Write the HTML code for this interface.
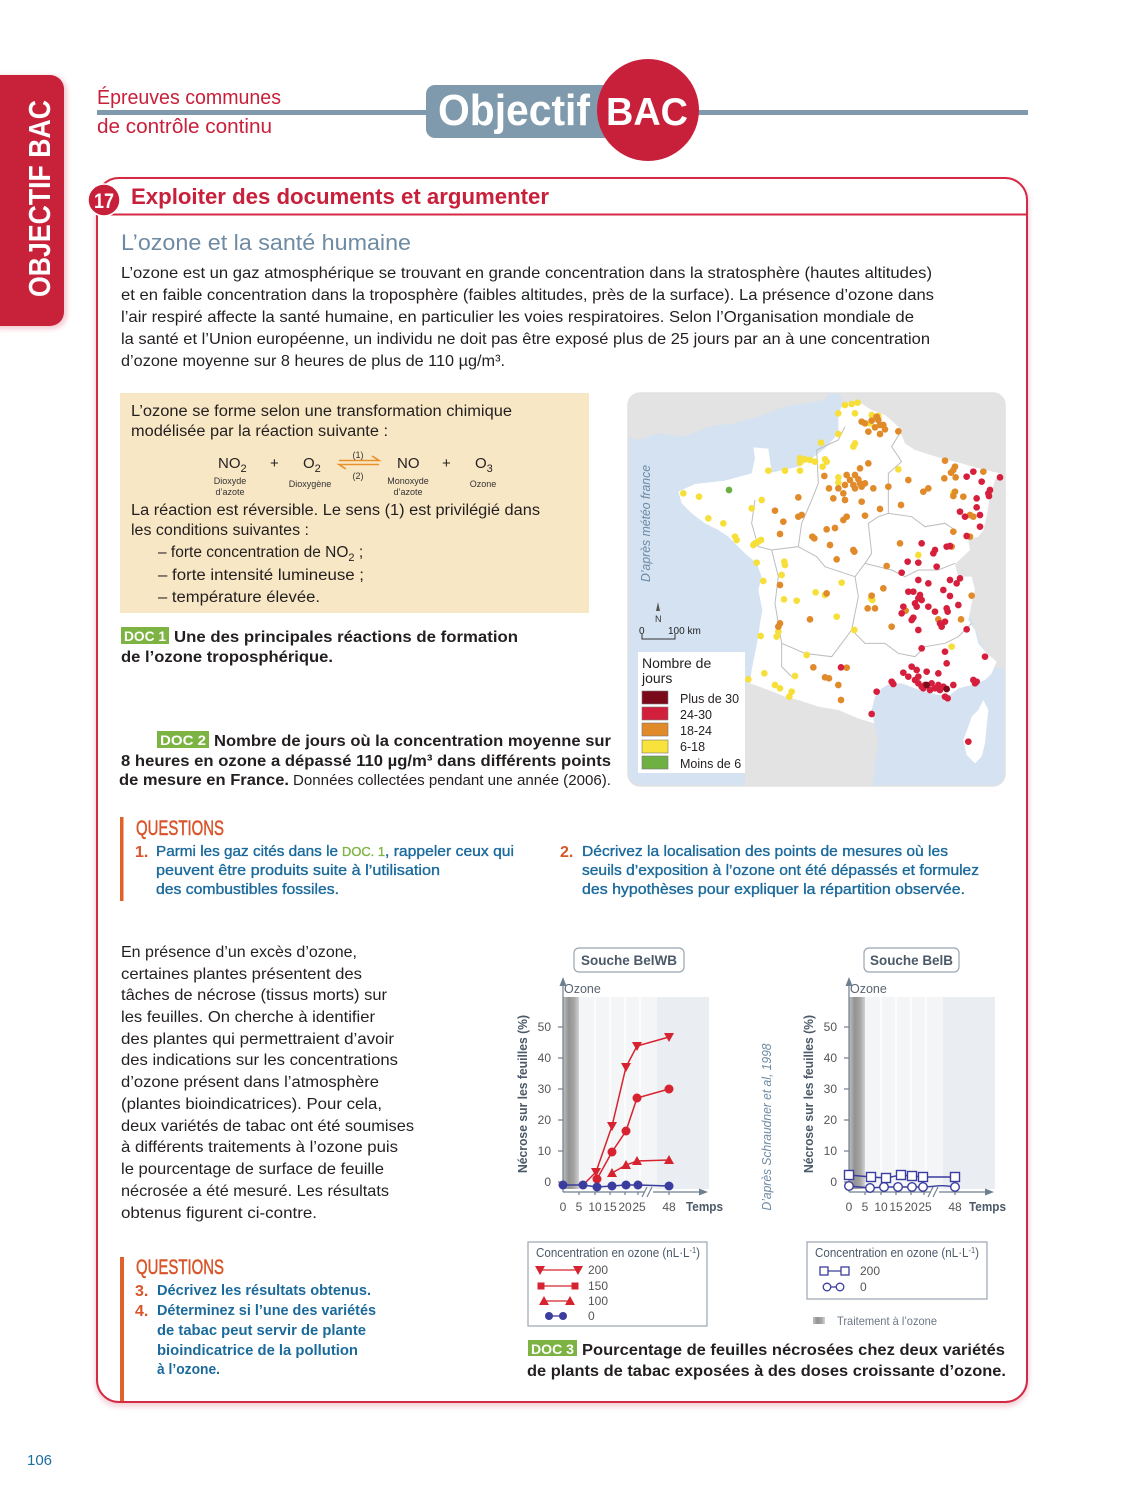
<!DOCTYPE html>
<html><head><meta charset="utf-8"><style>
html,body{margin:0;padding:0;background:#fff;}
body{width:1125px;height:1500px;overflow:hidden;}
svg{display:block;}
</style></head><body>
<svg width="1125" height="1500" viewBox="0 0 1125 1500" font-family="'Liberation Sans','DejaVu Sans',sans-serif">
<defs>
<linearGradient id="ozg" x1="0" x2="1" y1="0" y2="0">
<stop offset="0" stop-color="#c2c2c2"/><stop offset="0.35" stop-color="#929292"/><stop offset="0.7" stop-color="#a6a6a6"/><stop offset="1" stop-color="#d2d2d2"/>
</linearGradient>
<filter id="sh" x="-5%" y="-5%" width="110%" height="110%"><feDropShadow dx="0" dy="3" stdDeviation="3" flood-color="#c8203a" flood-opacity="0.25"/></filter>
<filter id="sh2" x="-20%" y="-10%" width="140%" height="120%"><feDropShadow dx="2" dy="2" stdDeviation="3" flood-color="#c8203a" flood-opacity="0.3"/></filter>
<clipPath id="mapclip"><rect x="628" y="393" width="377" height="393" rx="12"/></clipPath>
</defs>

<!-- Sidebar tab -->
<rect x="-20" y="75" width="84" height="251" rx="14" fill="#c8203a" filter="url(#sh2)"/>
<text transform="translate(50,297) rotate(-90)" font-size="31" font-weight="bold" fill="#fff" textLength="197" lengthAdjust="spacingAndGlyphs">OBJECTIF BAC</text>

<!-- Header -->
<rect x="97" y="110" width="931" height="5" fill="#8099ad"/>
<text x="97" y="104" font-size="20" fill="#c8203a" textLength="184" lengthAdjust="spacingAndGlyphs">Épreuves communes</text>
<text x="97" y="133" font-size="20" fill="#c8203a" textLength="175" lengthAdjust="spacingAndGlyphs">de contrôle continu</text>
<rect x="426" y="85" width="192" height="53" rx="9" fill="#7f99ad"/>
<text x="438" y="125" font-size="44" font-weight="bold" fill="#fff" textLength="152" lengthAdjust="spacingAndGlyphs">Objectif</text>
<circle cx="648" cy="110" r="51" fill="#c8203a"/>
<text x="606" y="125" font-size="39" font-weight="bold" fill="#fff" textLength="82" lengthAdjust="spacingAndGlyphs">BAC</text>

<!-- Main box -->
<rect x="97" y="178" width="930" height="1224" rx="22" fill="#fff" stroke="#d42a45" stroke-width="2" filter="url(#sh)"/>
<line x1="97" y1="214.5" x2="1027" y2="214.5" stroke="#d42a45" stroke-width="2"/>
<circle cx="104" cy="200" r="16" fill="#c8203a" stroke="#fff" stroke-width="1.5"/>
<text x="104" y="208" font-size="21" font-weight="bold" fill="#fff" text-anchor="middle" textLength="20" lengthAdjust="spacingAndGlyphs">17</text>
<text x="131" y="204" font-size="22" font-weight="bold" fill="#c8203a" textLength="418" lengthAdjust="spacingAndGlyphs">Exploiter des documents et argumenter</text>

<text x="121" y="250" font-size="22" fill="#6f8ba3" textLength="290" lengthAdjust="spacingAndGlyphs">L’ozone et la santé humaine</text>

<g font-size="16" fill="#231f20">
<text x="121" y="278" textLength="811" lengthAdjust="spacingAndGlyphs">L’ozone est un gaz atmosphérique se trouvant en grande concentration dans la stratosphère (hautes altitudes)</text>
<text x="121" y="300" textLength="813" lengthAdjust="spacingAndGlyphs">et en faible concentration dans la troposphère (faibles altitudes, près de la surface). La présence d’ozone dans</text>
<text x="121" y="322" textLength="793" lengthAdjust="spacingAndGlyphs">l’air respiré affecte la santé humaine, en particulier les voies respiratoires. Selon l’Organisation mondiale de</text>
<text x="121" y="344" textLength="809" lengthAdjust="spacingAndGlyphs">la santé et l’Union européenne, un individu ne doit pas être exposé plus de 25 jours par an à une concentration</text>
<text x="121" y="366" textLength="384" lengthAdjust="spacingAndGlyphs">d’ozone moyenne sur 8 heures de plus de 110 µg/m³.</text>
</g>

<!-- DOC 1 -->
<rect x="120" y="393" width="469" height="220" fill="#f8e7c4"/>
<g font-size="15.5" fill="#231f20">
<text x="131" y="416" textLength="381" lengthAdjust="spacingAndGlyphs">L’ozone se forme selon une transformation chimique</text>
<text x="131" y="436" textLength="257" lengthAdjust="spacingAndGlyphs">modélisée par la réaction suivante :</text>
<text x="131" y="515" textLength="409" lengthAdjust="spacingAndGlyphs">La réaction est réversible. Le sens (1) est privilégié dans</text>
<text x="131" y="535" textLength="178" lengthAdjust="spacingAndGlyphs">les conditions suivantes :</text>
<text x="158" y="557">– forte concentration de NO<tspan font-size="11" dy="4">2</tspan><tspan dy="-4"> ;</tspan></text>
<text x="158" y="580" textLength="206" lengthAdjust="spacingAndGlyphs">– forte intensité lumineuse ;</text>
<text x="158" y="602" textLength="162" lengthAdjust="spacingAndGlyphs">– température élevée.</text>
</g>
<g font-size="15" fill="#231f20">
<text x="218" y="468">NO<tspan font-size="11" dy="4">2</tspan></text>
<text x="270" y="468">+</text>
<text x="303" y="468">O<tspan font-size="11" dy="4">2</tspan></text>
<text x="397" y="468">NO</text>
<text x="442" y="468">+</text>
<text x="475" y="468">O<tspan font-size="11" dy="4">3</tspan></text>
</g>
<g stroke="#e8902a" stroke-width="1.6" fill="none">
<polyline points="339,460.5 379,460.5 372,456"/>
<polyline points="379,464.5 339,464.5 346,469"/>
</g>
<g font-size="9" fill="#333" text-anchor="middle">
<text x="358" y="458">(1)</text>
<text x="358" y="479">(2)</text>
<text x="230" y="484">Dioxyde</text>
<text x="230" y="495">d’azote</text>
<text x="310" y="487">Dioxygène</text>
<text x="408" y="484">Monoxyde</text>
<text x="408" y="495">d’azote</text>
<text x="483" y="487">Ozone</text>
</g>
<rect x="121" y="627" width="48" height="17" fill="#7cb342"/>
<text x="124" y="641" font-size="14" font-weight="bold" fill="#fff" textLength="42" lengthAdjust="spacingAndGlyphs">DOC 1</text>
<g font-size="16" font-weight="bold" fill="#231f20">
<text x="174" y="642" textLength="344" lengthAdjust="spacingAndGlyphs">Une des principales réactions de formation</text>
<text x="121" y="662" textLength="212" lengthAdjust="spacingAndGlyphs">de l’ozone troposphérique.</text>
</g>

<!-- MAP -->
<g clip-path="url(#mapclip)">
<rect x="628" y="393" width="377" height="393" fill="#d4e2f1"/>
<g transform="translate(625,390) scale(0.33333)">
<polygon fill="#e3e3e3" points="0,0 620,0 600,30 480,50 400,80 330,100 250,110 180,140 100,130 40,150 0,140"/>
<polygon fill="#e3e3e3" points="640,0 1155,0 1155,840 1100,830 1000,600 700,40 655,40"/>
<polygon fill="#e3e3e3" points="370,870 480,920 640,960 748,1000 760,1050 740,1200 360,1200 360,900"/>
<polygon fill="#fff" points="160,305 210,282 300,272 380,250 390,205 385,172 430,176 440,248 520,230 560,205 600,175 640,130 640,70 655,40 700,35 740,60 780,75 820,110 840,160 870,180 950,205 1010,220 1060,235 1125,250 1110,270 1095,320 1085,380 1075,420 1060,440 1030,450 1035,480 990,522 1000,560 1040,560 1050,600 1040,640 1030,690 1050,720 1060,760 1085,790 1115,815 1100,850 1080,870 1040,885 1000,895 975,915 940,915 900,905 870,895 830,880 795,880 770,895 750,920 740,960 748,1000 700,985 640,960 580,950 520,930 480,920 430,900 375,880 380,840 390,790 400,740 405,700 412,660 400,600 410,560 395,520 360,490 330,460 310,440 280,420 240,400 200,370 170,340"/>
<polygon fill="#fff" points="1075,930 1090,960 1085,1010 1080,1060 1070,1100 1050,1120 1025,1095 1015,1050 1030,1010 1040,980 1060,960"/>
<g fill="none" stroke="#bdbdbd" stroke-width="3">
<polyline points="575,180 580,280 560,330 530,400 520,470 440,480 400,470"/>
<polyline points="520,470 575,500 600,530 690,560 720,520 740,490 730,400 760,380 790,370 790,250 830,215"/>
<polyline points="790,370 860,380 900,410 960,400 990,420"/>
<polyline points="720,520 800,540 840,560 880,540 940,540 990,520"/>
<polyline points="690,560 700,620 680,720 720,760 780,760 820,790 870,800 900,770 960,760 1000,740 1040,700"/>
<polyline points="470,760 540,790 620,800 680,720"/>
<polyline points="440,480 460,560 450,640 470,760 470,830 500,860"/>
<polyline points="830,120 800,170 830,215"/>
<polyline points="575,180 640,150 660,110"/>
<polyline points="400,470 380,400 390,330"/>
</g>
<g fill="#f7df3a">
<circle cx="660" cy="45" r="10"/><circle cx="680" cy="42" r="10"/><circle cx="698" cy="38" r="10"/><circle cx="640" cy="70" r="10"/><circle cx="690" cy="70" r="10"/><circle cx="740" cy="75" r="10"/><circle cx="760" cy="78" r="10"/><circle cx="735" cy="100" r="10"/><circle cx="640" cy="132" r="10"/><circle cx="588" cy="158" r="10"/><circle cx="690" cy="160" r="10"/><circle cx="685" cy="170" r="10"/><circle cx="525" cy="205" r="10"/><circle cx="540" cy="208" r="10"/><circle cx="555" cy="210" r="10"/><circle cx="570" cy="215" r="10"/><circle cx="525" cy="218" r="10"/><circle cx="600" cy="208" r="10"/><circle cx="605" cy="215" r="10"/><circle cx="593" cy="230" r="10"/><circle cx="640" cy="262" r="10"/><circle cx="640" cy="278" r="10"/><circle cx="430" cy="242" r="10"/><circle cx="480" cy="242" r="10"/><circle cx="525" cy="242" r="10"/><circle cx="820" cy="238" r="10"/><circle cx="175" cy="310" r="10"/><circle cx="222" cy="320" r="10"/><circle cx="410" cy="330" r="10"/><circle cx="380" cy="355" r="10"/><circle cx="250" cy="385" r="10"/><circle cx="295" cy="400" r="10"/><circle cx="330" cy="440" r="10"/><circle cx="335" cy="450" r="10"/><circle cx="390" cy="460" r="10"/><circle cx="385" cy="465" r="10"/><circle cx="400" cy="455" r="10"/><circle cx="408" cy="450" r="10"/><circle cx="395" cy="518" r="10"/><circle cx="478" cy="515" r="10"/><circle cx="480" cy="525" r="10"/><circle cx="470" cy="555" r="10"/><circle cx="415" cy="573" r="10"/><circle cx="650" cy="578" r="10"/><circle cx="572" cy="607" r="10"/><circle cx="600" cy="615" r="10"/><circle cx="738" cy="625" r="10"/><circle cx="742" cy="630" r="10"/><circle cx="477" cy="628" r="10"/><circle cx="515" cy="632" r="10"/><circle cx="635" cy="680" r="10"/><circle cx="688" cy="720" r="10"/><circle cx="407" cy="738" r="10"/><circle cx="460" cy="725" r="10"/><circle cx="455" cy="740" r="10"/><circle cx="545" cy="795" r="10"/><circle cx="980" cy="770" r="10"/><circle cx="880" cy="495" r="10"/><circle cx="985" cy="310" r="10"/><circle cx="370" cy="868" r="10"/><circle cx="418" cy="850" r="10"/><circle cx="450" cy="885" r="10"/><circle cx="465" cy="895" r="10"/><circle cx="500" cy="905" r="10"/><circle cx="493" cy="920" r="10"/><circle cx="510" cy="858" r="10"/>
</g>
<g fill="#e08a2a">
<circle cx="710" cy="95" r="10"/><circle cx="720" cy="100" r="10"/><circle cx="740" cy="92" r="10"/><circle cx="755" cy="80" r="10"/><circle cx="760" cy="90" r="10"/><circle cx="765" cy="105" r="10"/><circle cx="750" cy="112" r="10"/><circle cx="775" cy="105" r="10"/><circle cx="780" cy="118" r="10"/><circle cx="730" cy="125" r="10"/><circle cx="765" cy="132" r="10"/><circle cx="820" cy="124" r="10"/><circle cx="730" cy="220" r="10"/><circle cx="705" cy="235" r="10"/><circle cx="598" cy="258" r="10"/><circle cx="665" cy="255" r="10"/><circle cx="690" cy="255" r="10"/><circle cx="700" cy="268" r="10"/><circle cx="705" cy="280" r="10"/><circle cx="685" cy="285" r="10"/><circle cx="690" cy="295" r="10"/><circle cx="710" cy="290" r="10"/><circle cx="720" cy="280" r="10"/><circle cx="675" cy="270" r="10"/><circle cx="660" cy="285" r="10"/><circle cx="655" cy="310" r="10"/><circle cx="640" cy="295" r="10"/><circle cx="612" cy="295" r="10"/><circle cx="745" cy="295" r="10"/><circle cx="790" cy="290" r="10"/><circle cx="850" cy="270" r="10"/><circle cx="910" cy="295" r="10"/><circle cx="895" cy="305" r="10"/><circle cx="990" cy="230" r="10"/><circle cx="985" cy="240" r="10"/><circle cx="978" cy="248" r="10"/><circle cx="960" cy="212" r="10"/><circle cx="958" cy="265" r="10"/><circle cx="992" cy="262" r="10"/><circle cx="1075" cy="245" r="10"/><circle cx="990" cy="305" r="10"/><circle cx="985" cy="318" r="10"/><circle cx="1015" cy="320" r="10"/><circle cx="1035" cy="375" r="10"/><circle cx="1045" cy="380" r="10"/><circle cx="520" cy="322" r="10"/><circle cx="450" cy="362" r="10"/><circle cx="520" cy="380" r="10"/><circle cx="530" cy="375" r="10"/><circle cx="665" cy="380" r="10"/><circle cx="655" cy="390" r="10"/><circle cx="720" cy="377" r="10"/><circle cx="765" cy="357" r="10"/><circle cx="828" cy="345" r="10"/><circle cx="660" cy="330" r="10"/><circle cx="625" cy="325" r="10"/><circle cx="710" cy="335" r="10"/><circle cx="475" cy="395" r="10"/><circle cx="465" cy="432" r="10"/><circle cx="562" cy="440" r="10"/><circle cx="568" cy="445" r="10"/><circle cx="605" cy="418" r="10"/><circle cx="630" cy="414" r="10"/><circle cx="615" cy="465" r="10"/><circle cx="685" cy="480" r="10"/><circle cx="688" cy="485" r="10"/><circle cx="635" cy="508" r="10"/><circle cx="785" cy="528" r="10"/><circle cx="825" cy="460" r="10"/><circle cx="985" cy="425" r="10"/><circle cx="1035" cy="440" r="10"/><circle cx="465" cy="585" r="10"/><circle cx="605" cy="610" r="10"/><circle cx="775" cy="595" r="10"/><circle cx="728" cy="655" r="10"/><circle cx="750" cy="655" r="10"/><circle cx="740" cy="617" r="10"/><circle cx="842" cy="662" r="10"/><circle cx="940" cy="688" r="10"/><circle cx="1008" cy="688" r="10"/><circle cx="1040" cy="617" r="10"/><circle cx="555" cy="688" r="10"/><circle cx="800" cy="710" r="10"/><circle cx="980" cy="470" r="10"/><circle cx="640" cy="885" r="10"/><circle cx="612" cy="865" r="10"/><circle cx="600" cy="862" r="10"/><circle cx="565" cy="832" r="10"/><circle cx="665" cy="833" r="10"/><circle cx="648" cy="930" r="10"/><circle cx="460" cy="710" r="10"/><circle cx="465" cy="700" r="10"/>
</g>
<g fill="#d61f3d">
<circle cx="1045" cy="245" r="10"/><circle cx="1025" cy="260" r="10"/><circle cx="1070" cy="275" r="10"/><circle cx="1125" cy="262" r="10"/><circle cx="1095" cy="300" r="10"/><circle cx="1090" cy="310" r="10"/><circle cx="1092" cy="318" r="10"/><circle cx="1055" cy="325" r="10"/><circle cx="1055" cy="352" r="10"/><circle cx="1065" cy="375" r="10"/><circle cx="1065" cy="410" r="10"/><circle cx="1005" cy="365" r="10"/><circle cx="1020" cy="380" r="10"/><circle cx="1025" cy="438" r="10"/><circle cx="890" cy="460" r="10"/><circle cx="930" cy="480" r="10"/><circle cx="925" cy="490" r="10"/><circle cx="965" cy="470" r="10"/><circle cx="975" cy="468" r="10"/><circle cx="848" cy="515" r="10"/><circle cx="880" cy="518" r="10"/><circle cx="935" cy="530" r="10"/><circle cx="830" cy="548" r="10"/><circle cx="880" cy="570" r="10"/><circle cx="910" cy="580" r="10"/><circle cx="975" cy="570" r="10"/><circle cx="995" cy="580" r="10"/><circle cx="1005" cy="565" r="10"/><circle cx="955" cy="600" r="10"/><circle cx="850" cy="605" r="10"/><circle cx="865" cy="605" r="10"/><circle cx="880" cy="625" r="10"/><circle cx="885" cy="615" r="10"/><circle cx="890" cy="630" r="10"/><circle cx="875" cy="650" r="10"/><circle cx="870" cy="640" r="10"/><circle cx="835" cy="650" r="10"/><circle cx="830" cy="670" r="10"/><circle cx="860" cy="690" r="10"/><circle cx="865" cy="683" r="10"/><circle cx="910" cy="650" r="10"/><circle cx="930" cy="665" r="10"/><circle cx="965" cy="655" r="10"/><circle cx="968" cy="665" r="10"/><circle cx="975" cy="618" r="10"/><circle cx="1000" cy="645" r="10"/><circle cx="945" cy="700" r="10"/><circle cx="950" cy="710" r="10"/><circle cx="960" cy="695" r="10"/><circle cx="880" cy="720" r="10"/><circle cx="1025" cy="718" r="10"/><circle cx="890" cy="775" r="10"/><circle cx="960" cy="785" r="10"/><circle cx="1080" cy="800" r="10"/><circle cx="860" cy="830" r="10"/><circle cx="875" cy="840" r="10"/><circle cx="905" cy="845" r="10"/><circle cx="835" cy="848" r="10"/><circle cx="850" cy="860" r="10"/><circle cx="880" cy="860" r="10"/><circle cx="940" cy="850" r="10"/><circle cx="965" cy="820" r="10"/><circle cx="870" cy="870" r="10"/><circle cx="880" cy="880" r="10"/><circle cx="890" cy="890" r="10"/><circle cx="900" cy="885" r="10"/><circle cx="920" cy="880" r="10"/><circle cx="940" cy="885" r="10"/><circle cx="955" cy="890" r="10"/><circle cx="930" cy="895" r="10"/><circle cx="945" cy="900" r="10"/><circle cx="915" cy="900" r="10"/><circle cx="895" cy="895" r="10"/><circle cx="960" cy="920" r="10"/><circle cx="968" cy="925" r="10"/><circle cx="800" cy="875" r="10"/><circle cx="805" cy="882" r="10"/><circle cx="755" cy="905" r="10"/><circle cx="985" cy="885" r="10"/><circle cx="1045" cy="870" r="10"/><circle cx="1055" cy="875" r="10"/><circle cx="1050" cy="880" r="10"/><circle cx="740" cy="972" r="10"/><circle cx="1030" cy="1055" r="10"/><circle cx="648" cy="832" r="10"/>
</g>
<g fill="#7a0c1c"><circle cx="905" cy="885" r="10"/><circle cx="965" cy="897" r="10"/></g>
<circle cx="312" cy="300" r="10" fill="#6ab043"/>
</g>
</g>
<rect x="628" y="393" width="377" height="393" rx="12" fill="none" stroke="#e2e2e2" stroke-width="1.5"/>
<text transform="translate(650,582) rotate(-90)" font-size="13" font-style="italic" fill="#6d8aa3" textLength="117" lengthAdjust="spacingAndGlyphs">D’après météo france</text>
<polygon points="658,602 656,611 660,611" fill="#555"/>
<text x="655" y="622" font-size="9" fill="#333">N</text>
<text x="639" y="634" font-size="10" fill="#222">0</text>
<text x="668" y="634" font-size="10" fill="#222">100 km</text>
<polyline points="642,634 642,639 675,639 675,634" fill="none" stroke="#333" stroke-width="1"/>
<rect x="638" y="652" width="107" height="121" fill="#fff"/>
<text x="642" y="668" font-size="14" fill="#231f20">Nombre de</text>
<text x="642" y="683" font-size="14" fill="#231f20">jours</text>
<g stroke="#777" stroke-width="0.6">
<rect x="642" y="691" width="26" height="13" fill="#7a0a1a"/>
<rect x="642" y="707" width="26" height="13" fill="#d21f3c"/>
<rect x="642" y="723" width="26" height="13" fill="#e08a2a"/>
<rect x="642" y="740" width="26" height="13" fill="#f8e23c"/>
<rect x="642" y="756" width="26" height="13" fill="#6fb043"/>
</g>
<g font-size="12.5" fill="#231f20">
<text x="680" y="703">Plus de 30</text>
<text x="680" y="719">24-30</text>
<text x="680" y="735">18-24</text>
<text x="680" y="751">6-18</text>
<text x="680" y="768">Moins de 6</text>
</g>

<!-- DOC 2 caption -->
<rect x="157" y="731" width="52" height="17" fill="#7cb342"/>
<text x="160" y="745" font-size="14" font-weight="bold" fill="#fff" textLength="46" lengthAdjust="spacingAndGlyphs">DOC 2</text>
<g font-size="16" font-weight="bold" fill="#231f20">
<text x="214" y="746" textLength="397" lengthAdjust="spacingAndGlyphs">Nombre de jours où la concentration moyenne sur</text>
<text x="121" y="766" textLength="490" lengthAdjust="spacingAndGlyphs">8 heures en ozone a dépassé 110 µg/m³ dans différents points</text>
<text x="119" y="785" textLength="170" lengthAdjust="spacingAndGlyphs">de mesure en France.</text>
</g>
<text x="293" y="785" font-size="15" fill="#231f20" textLength="318" lengthAdjust="spacingAndGlyphs">Données collectées pendant une année (2006).</text>

<!-- Questions 1-2 -->
<rect x="120" y="817" width="3.5" height="84" fill="#e0622a"/>
<text x="136" y="835" font-size="21" fill="#d9552a" stroke="#d9552a" stroke-width="0.5" textLength="88" lengthAdjust="spacingAndGlyphs">QUESTIONS</text>
<g font-size="16" font-weight="bold" fill="#d9552a">
<text x="135" y="857">1.</text>
<text x="560" y="857">2.</text>
</g>
<g font-size="15" fill="#1b6a9c" stroke="#1b6a9c" stroke-width="0.35">
<text x="156" y="856" textLength="182" lengthAdjust="spacingAndGlyphs">Parmi les gaz cités dans le</text>
<text x="342" y="856" font-size="13" fill="#7cb342" stroke="#7cb342" textLength="43" lengthAdjust="spacingAndGlyphs">DOC. 1</text>
<text x="385" y="856" textLength="129" lengthAdjust="spacingAndGlyphs">, rappeler ceux qui</text>
<text x="156" y="875" textLength="284" lengthAdjust="spacingAndGlyphs">peuvent être produits suite à l’utilisation</text>
<text x="156" y="894" textLength="183" lengthAdjust="spacingAndGlyphs">des combustibles fossiles.</text>
<text x="582" y="856" textLength="366" lengthAdjust="spacingAndGlyphs">Décrivez la localisation des points de mesures où les</text>
<text x="582" y="875" textLength="397" lengthAdjust="spacingAndGlyphs">seuils d’exposition à l’ozone ont été dépassés et formulez</text>
<text x="582" y="894" textLength="383" lengthAdjust="spacingAndGlyphs">des hypothèses pour expliquer la répartition observée.</text>
</g>

<!-- Lower paragraph -->
<g font-size="16" fill="#231f20">
<text x="121" y="957" textLength="236" lengthAdjust="spacingAndGlyphs">En présence d’un excès d’ozone,</text>
<text x="121" y="979" textLength="241" lengthAdjust="spacingAndGlyphs">certaines plantes présentent des</text>
<text x="121" y="1000" textLength="266" lengthAdjust="spacingAndGlyphs">tâches de nécrose (tissus morts) sur</text>
<text x="121" y="1022" textLength="254" lengthAdjust="spacingAndGlyphs">les feuilles. On cherche à identifier</text>
<text x="121" y="1044" textLength="273" lengthAdjust="spacingAndGlyphs">des plantes qui permettraient d’avoir</text>
<text x="121" y="1065" textLength="277" lengthAdjust="spacingAndGlyphs">des indications sur les concentrations</text>
<text x="121" y="1087" textLength="258" lengthAdjust="spacingAndGlyphs">d’ozone présent dans l’atmosphère</text>
<text x="121" y="1109" textLength="261" lengthAdjust="spacingAndGlyphs">(plantes bioindicatrices). Pour cela,</text>
<text x="121" y="1131" textLength="293" lengthAdjust="spacingAndGlyphs">deux variétés de tabac ont été soumises</text>
<text x="121" y="1152" textLength="277" lengthAdjust="spacingAndGlyphs">à différents traitements à l’ozone puis</text>
<text x="121" y="1174" textLength="263" lengthAdjust="spacingAndGlyphs">le pourcentage de surface de feuille</text>
<text x="121" y="1196" textLength="268" lengthAdjust="spacingAndGlyphs">nécrosée a été mesuré. Les résultats</text>
<text x="121" y="1218" textLength="196" lengthAdjust="spacingAndGlyphs">obtenus figurent ci-contre.</text>
</g>

<!-- Questions 3-4 -->
<rect x="120" y="1257" width="4" height="144" fill="#e0622a"/>
<text x="136" y="1274" font-size="21" fill="#d9552a" stroke="#d9552a" stroke-width="0.5" textLength="88" lengthAdjust="spacingAndGlyphs">QUESTIONS</text>
<g font-size="16" font-weight="bold" fill="#d9552a">
<text x="135" y="1296">3.</text>
<text x="135" y="1316">4.</text>
</g>
<g font-size="15" font-weight="bold" fill="#1b6a9c">
<text x="157" y="1295" textLength="214" lengthAdjust="spacingAndGlyphs">Décrivez les résultats obtenus.</text>
<text x="157" y="1315" textLength="219" lengthAdjust="spacingAndGlyphs">Déterminez si l’une des variétés</text>
<text x="157" y="1335" textLength="209" lengthAdjust="spacingAndGlyphs">de tabac peut servir de plante</text>
<text x="157" y="1355" textLength="201" lengthAdjust="spacingAndGlyphs">bioindicatrice de la pollution</text>
<text x="157" y="1374" textLength="63" lengthAdjust="spacingAndGlyphs">à l’ozone.</text>
</g>

<!-- LEFT CHART -->
<rect x="574" y="948" width="110" height="24" rx="5" fill="#fff" stroke="#9aa5b1" stroke-width="1.2"/>
<text x="629" y="965" font-size="14" font-weight="bold" fill="#4b5968" text-anchor="middle" textLength="96" lengthAdjust="spacingAndGlyphs">Souche BelWB</text>
<rect x="563" y="997" width="146" height="192" fill="#eaedf1"/>
<rect x="579" y="997" width="78" height="192" fill="#f3f5f7"/>
<g stroke="#fff" stroke-width="1.5"><line x1="595" y1="997" x2="595" y2="1189"/><line x1="610" y1="997" x2="610" y2="1189"/><line x1="625" y1="997" x2="625" y2="1189"/><line x1="640" y1="997" x2="640" y2="1189"/></g>
<rect x="563" y="997" width="16" height="192" fill="url(#ozg)"/>
<text x="564" y="993" font-size="12.5" fill="#5a6470">Ozone</text>
<g stroke="#6e7f90" stroke-width="1.2" fill="none">
<line x1="563" y1="1192" x2="563" y2="984"/>
<line x1="563" y1="1192" x2="701" y2="1192"/>
<line x1="558" y1="1182" x2="563" y2="1182"/><line x1="558" y1="1151" x2="563" y2="1151"/><line x1="558" y1="1120" x2="563" y2="1120"/><line x1="558" y1="1089" x2="563" y2="1089"/><line x1="558" y1="1058" x2="563" y2="1058"/><line x1="558" y1="1027" x2="563" y2="1027"/>
<line x1="579" y1="1192" x2="579" y2="1195"/><line x1="595" y1="1192" x2="595" y2="1195"/><line x1="610" y1="1192" x2="610" y2="1195"/><line x1="625" y1="1192" x2="625" y2="1195"/><line x1="638" y1="1192" x2="638" y2="1195"/><line x1="669" y1="1192" x2="669" y2="1195"/>
</g>
<polygon points="563,977 559.5,986 566.5,986" fill="#6e7f90"/>
<polygon points="708,1192 699,1188.5 699,1195.5" fill="#6e7f90"/>
<rect x="644" y="1189" width="9" height="6" fill="#fff"/>
<g stroke="#6e7f90" stroke-width="1.1"><line x1="642" y1="1197" x2="647" y2="1187"/><line x1="647" y1="1197" x2="652" y2="1187"/></g>
<g font-size="12" fill="#555" text-anchor="end">
<text x="551" y="1186">0</text><text x="551" y="1155">10</text><text x="551" y="1124">20</text><text x="551" y="1093">30</text><text x="551" y="1062">40</text><text x="551" y="1031">50</text>
</g>
<g font-size="12" fill="#555" text-anchor="middle">
<text x="563" y="1211">0</text><text x="579" y="1211">5</text><text x="595" y="1211">10</text><text x="610" y="1211">15</text><text x="625" y="1211">20</text><text x="639" y="1211">25</text><text x="669" y="1211">48</text>
</g>
<text x="686" y="1211" font-size="13" font-weight="bold" fill="#4b5968" textLength="37" lengthAdjust="spacingAndGlyphs">Temps</text>
<text transform="translate(527,1094) rotate(-90)" font-size="13" font-weight="bold" fill="#4b5968" text-anchor="middle" textLength="158" lengthAdjust="spacingAndGlyphs">Nécrose sur les feuilles (%)</text>
<g fill="none" stroke="#d7232f" stroke-width="1.5">
<polyline points="583,1185 596,1172 612,1126 626,1067 637,1046 669,1037"/>
<polyline points="597,1179 612,1152 626,1131 637,1098 669,1089"/>
<polyline points="612,1173 626,1165 637,1161 669,1160"/>
</g>
<g fill="#d7232f">
<polygon points="591,1168 601,1168 596,1177"/><polygon points="607,1122 617,1122 612,1131"/><polygon points="621,1063 631,1063 626,1072"/><polygon points="632,1042 642,1042 637,1051"/><polygon points="664,1033 674,1033 669,1042"/>
<circle cx="597" cy="1179" r="4.5"/><circle cx="612" cy="1152" r="4.5"/><circle cx="626" cy="1131" r="4.5"/><circle cx="637" cy="1098" r="4.5"/><circle cx="669" cy="1089" r="4.5"/>
<polygon points="607,1177 617,1177 612,1168"/><polygon points="621,1169 631,1169 626,1160"/><polygon points="632,1165 642,1165 637,1156"/><polygon points="664,1164 674,1164 669,1155"/>
</g>
<polyline points="563,1185 583,1185 597,1187 612,1186 626,1185 638,1185 669,1186" fill="none" stroke="#3a3c9e" stroke-width="1.5"/>
<g fill="#3a3c9e">
<circle cx="563" cy="1185" r="4.5"/><circle cx="583" cy="1185" r="4.5"/><circle cx="597" cy="1187" r="4.5"/><circle cx="612" cy="1186" r="4.5"/><circle cx="626" cy="1185" r="4.5"/><circle cx="638" cy="1185" r="4.5"/><circle cx="669" cy="1186" r="4.5"/>
</g>

<!-- RIGHT CHART -->
<rect x="864" y="948" width="95" height="24" rx="5" fill="#fff" stroke="#9aa5b1" stroke-width="1.2"/>
<text x="911.5" y="965" font-size="14" font-weight="bold" fill="#4b5968" text-anchor="middle" textLength="83" lengthAdjust="spacingAndGlyphs">Souche BelB</text>
<rect x="849" y="997" width="146" height="192" fill="#eaedf1"/>
<rect x="865" y="997" width="78" height="192" fill="#f3f5f7"/>
<g stroke="#fff" stroke-width="1.5"><line x1="881" y1="997" x2="881" y2="1189"/><line x1="896" y1="997" x2="896" y2="1189"/><line x1="911" y1="997" x2="911" y2="1189"/><line x1="926" y1="997" x2="926" y2="1189"/></g>
<rect x="849" y="997" width="16" height="192" fill="url(#ozg)"/>
<text x="850" y="993" font-size="12.5" fill="#5a6470">Ozone</text>
<g stroke="#6e7f90" stroke-width="1.2" fill="none">
<line x1="849" y1="1192" x2="849" y2="984"/>
<line x1="849" y1="1192" x2="987" y2="1192"/>
<line x1="844" y1="1182" x2="849" y2="1182"/><line x1="844" y1="1151" x2="849" y2="1151"/><line x1="844" y1="1120" x2="849" y2="1120"/><line x1="844" y1="1089" x2="849" y2="1089"/><line x1="844" y1="1058" x2="849" y2="1058"/><line x1="844" y1="1027" x2="849" y2="1027"/>
<line x1="865" y1="1192" x2="865" y2="1195"/><line x1="881" y1="1192" x2="881" y2="1195"/><line x1="896" y1="1192" x2="896" y2="1195"/><line x1="911" y1="1192" x2="911" y2="1195"/><line x1="924" y1="1192" x2="924" y2="1195"/><line x1="955" y1="1192" x2="955" y2="1195"/>
</g>
<polygon points="849,977 845.5,986 852.5,986" fill="#6e7f90"/>
<polygon points="994,1192 985,1188.5 985,1195.5" fill="#6e7f90"/>
<rect x="930" y="1189" width="9" height="6" fill="#fff"/>
<g stroke="#6e7f90" stroke-width="1.1"><line x1="928" y1="1197" x2="933" y2="1187"/><line x1="933" y1="1197" x2="938" y2="1187"/></g>
<g font-size="12" fill="#555" text-anchor="end">
<text x="837" y="1186">0</text><text x="837" y="1155">10</text><text x="837" y="1124">20</text><text x="837" y="1093">30</text><text x="837" y="1062">40</text><text x="837" y="1031">50</text>
</g>
<g font-size="12" fill="#555" text-anchor="middle">
<text x="849" y="1211">0</text><text x="865" y="1211">5</text><text x="881" y="1211">10</text><text x="896" y="1211">15</text><text x="911" y="1211">20</text><text x="925" y="1211">25</text><text x="955" y="1211">48</text>
</g>
<text x="969" y="1211" font-size="13" font-weight="bold" fill="#4b5968" textLength="37" lengthAdjust="spacingAndGlyphs">Temps</text>
<text transform="translate(813,1094) rotate(-90)" font-size="13" font-weight="bold" fill="#4b5968" text-anchor="middle" textLength="158" lengthAdjust="spacingAndGlyphs">Nécrose sur les feuilles (%)</text>
<text transform="translate(771,1127) rotate(-90)" font-size="13" font-style="italic" fill="#6d8aa3" text-anchor="middle" textLength="167" lengthAdjust="spacingAndGlyphs">D’après Schraudner et al, 1998</text>
<g fill="none" stroke="#3a3c9e" stroke-width="1.4">
<polyline points="849,1175 871,1177 886,1178 901,1175 912,1176 923,1177 955,1177"/>
<path d="M849,1186 L870,1188 L884,1187 L898,1187 L912,1187 L923,1187 C935,1187 938,1184 955,1187"/>
</g>
<g fill="#fff" stroke="#3a3c9e" stroke-width="1.4">
<rect x="844.5" y="1170.5" width="9" height="9"/><rect x="866.5" y="1172.5" width="9" height="9"/><rect x="881.5" y="1173.5" width="9" height="9"/><rect x="896.5" y="1170.5" width="9" height="9"/><rect x="907.5" y="1171.5" width="9" height="9"/><rect x="918.5" y="1172.5" width="9" height="9"/><rect x="950.5" y="1172.5" width="9" height="9"/>
<circle cx="849" cy="1186" r="4.3"/><circle cx="870" cy="1188" r="4.3"/><circle cx="884" cy="1187" r="4.3"/><circle cx="898" cy="1187" r="4.3"/><circle cx="912" cy="1187" r="4.3"/><circle cx="923" cy="1187" r="4.3"/><circle cx="955" cy="1187" r="4.3"/>
</g>

<!-- Legends -->
<rect x="528" y="1242" width="179" height="84" fill="#fff" stroke="#9aa5b1" stroke-width="1.2"/>
<text x="536" y="1257" font-size="12.5" fill="#4b5968" textLength="164" lengthAdjust="spacingAndGlyphs">Concentration en ozone (nL·L<tspan font-size="8" dy="-4">-1</tspan><tspan dy="4">)</tspan></text>
<g stroke="#d7232f" stroke-width="1.3"><line x1="540" y1="1270" x2="578" y2="1270"/><line x1="541" y1="1286" x2="575" y2="1286"/><line x1="544" y1="1301" x2="570" y2="1301"/></g>
<g fill="#d7232f">
<polygon points="535,1266 545,1266 540,1275"/><polygon points="573,1266 583,1266 578,1275"/>
<rect x="537.5" y="1282.5" width="7" height="7"/><rect x="571.5" y="1282.5" width="7" height="7"/>
<polygon points="539,1305 549,1305 544,1296"/><polygon points="565,1305 575,1305 570,1296"/>
</g>
<line x1="549" y1="1316" x2="563" y2="1316" stroke="#3a3c9e" stroke-width="1.3"/>
<g fill="#3a3c9e"><circle cx="549" cy="1316" r="4"/><circle cx="563" cy="1316" r="4"/></g>
<g font-size="12" fill="#555">
<text x="588" y="1274">200</text><text x="588" y="1290">150</text><text x="588" y="1305">100</text><text x="588" y="1320">0</text>
</g>
<rect x="807" y="1242" width="180" height="57" fill="#fff" stroke="#9aa5b1" stroke-width="1.2"/>
<text x="815" y="1257" font-size="12.5" fill="#4b5968" textLength="164" lengthAdjust="spacingAndGlyphs">Concentration en ozone (nL·L<tspan font-size="8" dy="-4">-1</tspan><tspan dy="4">)</tspan></text>
<g stroke="#3a3c9e" stroke-width="1.3" fill="#fff">
<line x1="824" y1="1271" x2="845" y2="1271"/>
<rect x="820" y="1267" width="8" height="8"/><rect x="841" y="1267" width="8" height="8"/>
<line x1="827" y1="1287" x2="840" y2="1287"/>
<circle cx="827" cy="1287" r="3.8"/><circle cx="840" cy="1287" r="3.8"/>
</g>
<g font-size="12" fill="#555"><text x="860" y="1275">200</text><text x="860" y="1291">0</text></g>
<rect x="813" y="1317" width="12" height="7" fill="url(#ozg)"/>
<text x="837" y="1325" font-size="12" fill="#6b7785" textLength="100" lengthAdjust="spacingAndGlyphs">Traitement à l’ozone</text>

<!-- DOC 3 -->
<rect x="528" y="1340" width="49" height="16" fill="#7cb342"/>
<text x="531" y="1354" font-size="14" font-weight="bold" fill="#fff" textLength="43" lengthAdjust="spacingAndGlyphs">DOC 3</text>
<g font-size="16" font-weight="bold" fill="#231f20">
<text x="582" y="1355" textLength="423" lengthAdjust="spacingAndGlyphs">Pourcentage de feuilles nécrosées chez deux variétés</text>
<text x="527" y="1376" textLength="479" lengthAdjust="spacingAndGlyphs">de plants de tabac exposées à des doses croissante d’ozone.</text>
</g>

<text x="27" y="1465" font-size="15" fill="#1d6fa0">106</text>
</svg>
</body></html>
